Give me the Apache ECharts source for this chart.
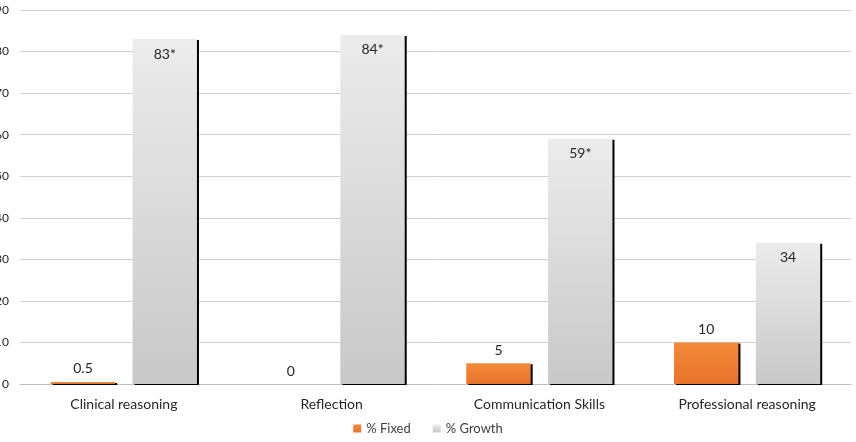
<!DOCTYPE html>
<html>
<head>
<meta charset="utf-8">
<script src="https://cdn.jsdelivr.net/npm/echarts@6/dist/echarts.min.js"></script>
<style>
  html, body { margin: 0; padding: 0; background: #fff; }
  #chart { width: 856px; height: 442px; }
</style>
</head>
<body>
<div id="chart"></div>
<script>
const categories = ['Clinical reasoning', 'Reflection', 'Communication Skills', 'Professional reasoning'];
const fixedValues = [0.5, 0, 5, 10];
const growthValues = [83, 84, 59, 34];
const growthLabels = ['83*', '84*', '59*', '34'];
const yTicks = { min: 0, max: 90, interval: 10 };

const chart = echarts.init(document.getElementById('chart'));
const font = 'Lato, "Open Sans", sans-serif';

const edgeShadow = { shadowColor: '#000', shadowOffsetX: 2, shadowOffsetY: 1, shadowBlur: 0 };

const option = {
  backgroundColor: '#fff',
  animation: false,
  textStyle: { fontFamily: font },
  grid: { left: 20, right: 5, top: 10, bottom: 58, containLabel: false, outerBoundsMode: 'none' },
  legend: {
    bottom: 2,
    left: 'center',
    itemWidth: 8,
    itemHeight: 8,
    itemGap: 22,
    icon: 'rect',
    textStyle: { fontSize: 13, color: '#404040', fontFamily: font },
    data: ['% Fixed', '% Growth']
  },
  xAxis: {
    type: 'category',
    data: categories,
    axisTick: { show: false },
    axisLine: { lineStyle: { color: '#bfbfbf', width: 1 } },
    axisLabel: { color: '#262626', fontSize: 14, margin: 13, fontFamily: font }
  },
  yAxis: {
    type: 'value',
    min: yTicks.min,
    max: yTicks.max,
    interval: yTicks.interval,
    axisLine: { show: false },
    axisTick: { show: false },
    axisLabel: { color: '#262626', fontSize: 12, margin: 11, fontFamily: font },
    splitLine: { lineStyle: { color: '#d0d0d0', width: 1 } }
  },
  series: [
    {
      name: '% Fixed',
      type: 'bar',
      data: fixedValues,
      barWidth: '31%',
      barGap: '27%',
      itemStyle: Object.assign({
        color: new echarts.graphic.LinearGradient(0, 0, 0, 1, [
          { offset: 0, color: '#f28b3a' },
          { offset: 1, color: '#e8722a' }
        ])
      }, edgeShadow),
      label: {
        show: true,
        position: 'top',
        distance: 6,
        color: '#262626',
        fontSize: 14,
        fontFamily: font
      }
    },
    {
      name: '% Growth',
      type: 'bar',
      data: growthValues,
      barWidth: '31%',
      itemStyle: Object.assign({
        color: new echarts.graphic.LinearGradient(0, 0, 0, 1, [
          { offset: 0, color: '#ececec' },
          { offset: 1, color: '#c8c8c8' }
        ])
      }, edgeShadow),
      label: {
        show: true,
        position: 'insideTop',
        distance: 8,
        color: '#262626',
        fontSize: 14,
        fontFamily: font,
        formatter: (p) => growthLabels[p.dataIndex]
      }
    }
  ]
};

chart.setOption(option);
</script>
</body>
</html>
